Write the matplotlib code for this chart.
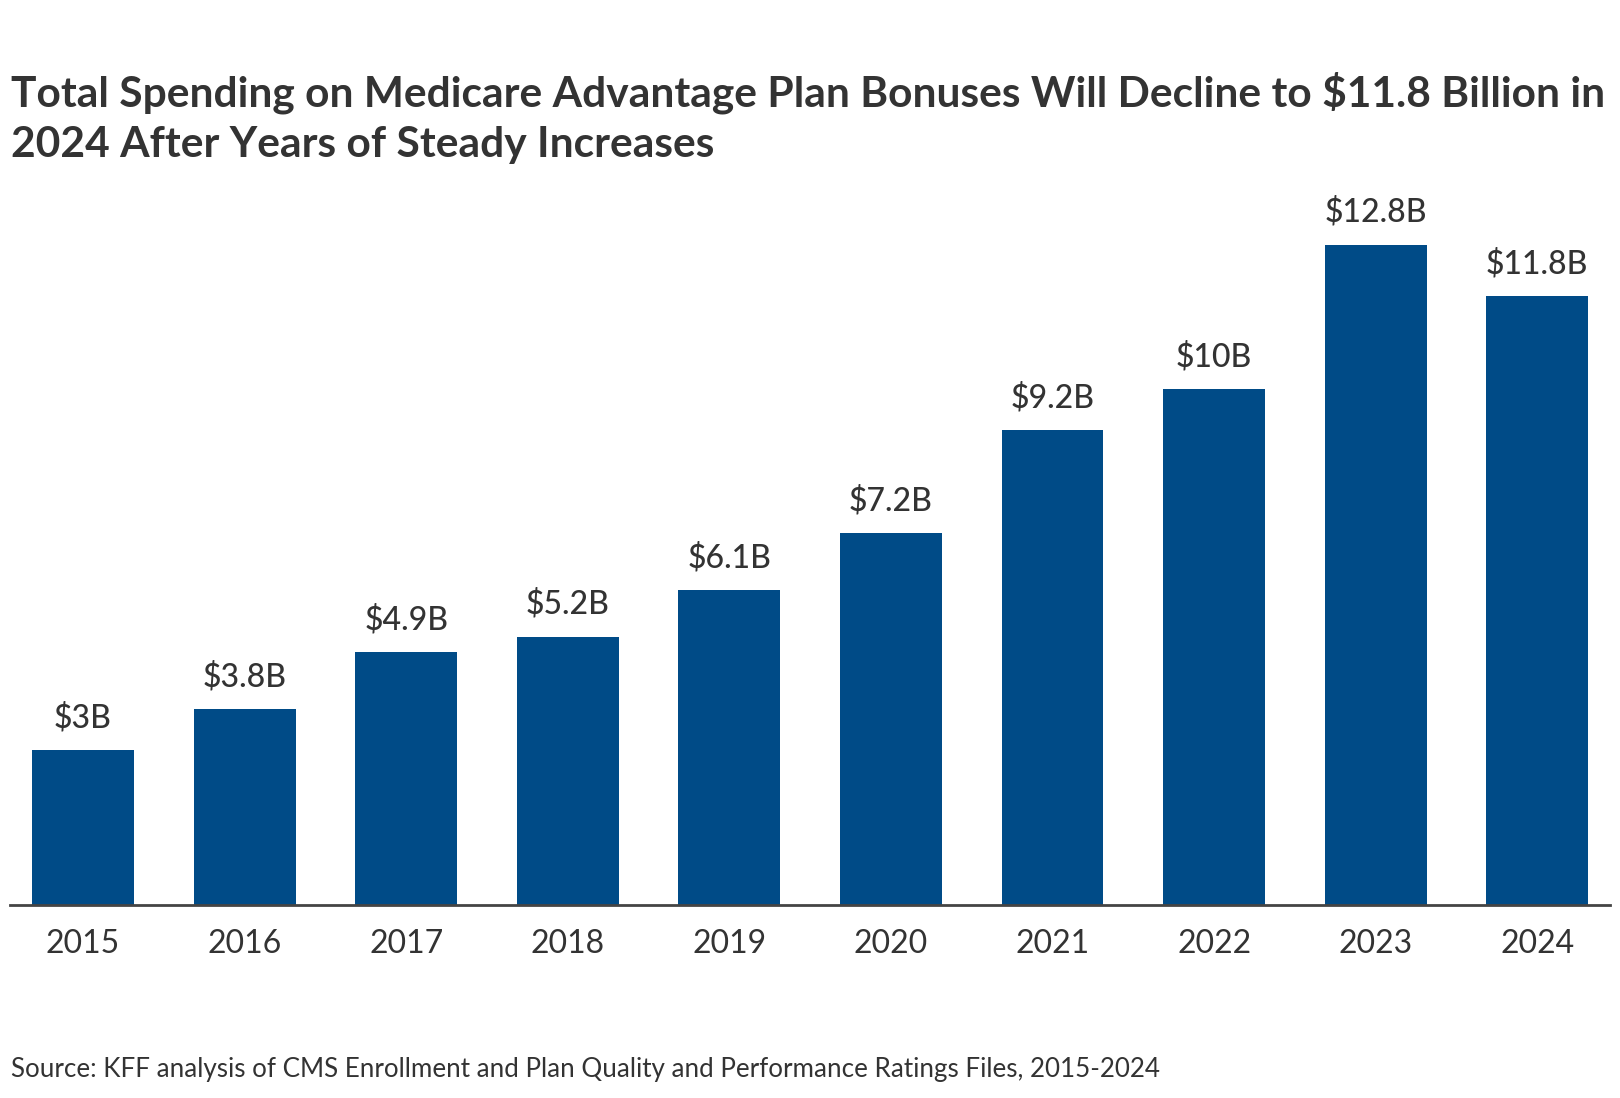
import matplotlib
matplotlib.use("Agg")
import matplotlib.pyplot as plt

YEARS = ["2015", "2016", "2017", "2018", "2019", "2020", "2021", "2022", "2023", "2024"]
SPENDING = [3.0, 3.8, 4.9, 5.2, 6.1, 7.2, 9.2, 10.0, 12.8, 11.8]
LABELS = ["$3B", "$3.8B", "$4.9B", "$5.2B", "$6.1B", "$7.2B", "$9.2B", "$10B", "$12.8B", "$11.8B"]

TITLE_LINES = [
    "Total Spending on Medicare Advantage Plan Bonuses Will Decline to $11.8 Billion in",
    "2024 After Years of Steady Increases",
]
SOURCE = "Source: KFF analysis of CMS Enrollment and Plan Quality and Performance Ratings Files, 2015-2024"

BAR_COLOR = "#004B87"
TEXT_COLOR = "#333333"

plt.rcParams["font.family"] = ["Lato", "DejaVu Sans"]

W, H = 1620, 1098
fig = plt.figure(figsize=(W / 100, H / 100), dpi=100)
ax = fig.add_axes([10 / W, 1 - 905 / H, 1600 / W, (905 - 182.6) / H])

x = list(range(len(YEARS)))
ax.bar(x, SPENDING, width=0.63, color=BAR_COLOR)
ax.set_xlim(-0.452, 9.45)
ax.set_ylim(0, 14)

# value labels above each bar
for xi, v, lab in zip(x, SPENDING, LABELS):
    ax.annotate(lab, (xi, v), xytext=(0, 16.5), textcoords="offset points",
                ha="center", va="baseline", fontsize=23, fontweight="medium",
                color=TEXT_COLOR)

ax.set_xticks(x)
ax.set_xticklabels(YEARS, fontsize=23, color=TEXT_COLOR)
ax.tick_params(axis="x", length=0, pad=17)
ax.set_yticks([])
for side in ["left", "right", "top"]:
    ax.spines[side].set_visible(False)
ax.spines["bottom"].set_color("#444444")
ax.spines["bottom"].set_linewidth(2)

fig.text(11 / W, 1 - 107 / H, TITLE_LINES[0], fontsize=30.6, fontweight="bold",
         color=TEXT_COLOR, va="baseline", ha="left")
fig.text(11 / W, 1 - 157 / H, TITLE_LINES[1], fontsize=30.6, fontweight="bold",
         color=TEXT_COLOR, va="baseline", ha="left")
fig.text(11 / W, 1 - 1077 / H, SOURCE, fontsize=18.7, color=TEXT_COLOR,
         va="baseline", ha="left")

fig.savefig("out.png", dpi=100)
